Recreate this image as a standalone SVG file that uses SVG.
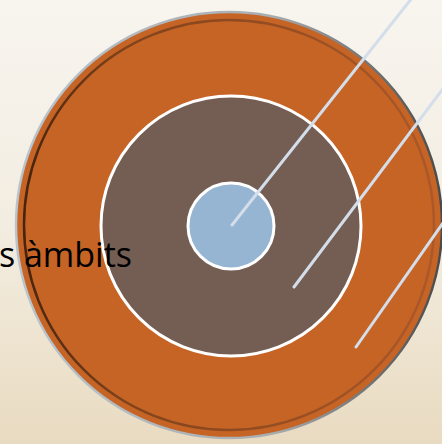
<svg xmlns="http://www.w3.org/2000/svg" width="442" height="444" viewBox="0 0 442 444">
  <defs>
    <linearGradient id="bg" x1="0" y1="0" x2="0" y2="1">
      <stop offset="0" stop-color="#F8F5EF"/>
      <stop offset="0.5" stop-color="#F3EDE1"/>
      <stop offset="1" stop-color="#E9DBC1"/>
    </linearGradient>
    <linearGradient id="rim" x1="0" y1="0" x2="1" y2="0">
      <stop offset="0" stop-color="#3A1E0C"/>
      <stop offset="0.25" stop-color="#7A3F1A"/>
      <stop offset="1" stop-color="#A8572A"/>
    </linearGradient>
    <linearGradient id="edge" x1="0" y1="0" x2="1" y2="0">
      <stop offset="0" stop-color="#B9C5CE"/>
      <stop offset="0.6" stop-color="#A8ADB0"/>
      <stop offset="1" stop-color="#4A4A4A"/>
    </linearGradient>
    <style>
      .ring { stroke: #FFFFFF; stroke-width: 3; }
      .ray { stroke: #D3DEEA; stroke-width: 3; stroke-linecap: round; fill: none; }
      .label { font-family: "Open Sans", "Noto Sans", sans-serif; font-size: 34px; fill: #000000; }
    </style>
  </defs>
  <rect width="442" height="444" fill="url(#bg)"/>
  <g id="outer">
    <circle cx="229" cy="225" r="213" fill="#C66426" stroke="url(#edge)" stroke-width="2.5"/>
    <circle cx="229" cy="225" r="205" fill="none" stroke="url(#rim)" stroke-width="2.5" stroke-opacity="0.9"/>
  </g>
  <g id="middle">
    <circle class="ring" cx="231" cy="226" r="130" fill="#745E54"/>
  </g>
  <g id="inner">
    <circle class="ring" cx="231" cy="226" r="43" fill="#96B5D2"/>
  </g>
  <g id="connectors">
    <line class="ray" x1="232" y1="225" x2="412" y2="-2"/>
    <line class="ray" x1="294" y1="287" x2="445" y2="86"/>
    <line class="ray" x1="356" y1="347" x2="445" y2="220"/>
  </g>
  <g id="label">
    <text class="label" x="132" y="267" text-anchor="end">s àmbits</text>
  </g>
</svg>
